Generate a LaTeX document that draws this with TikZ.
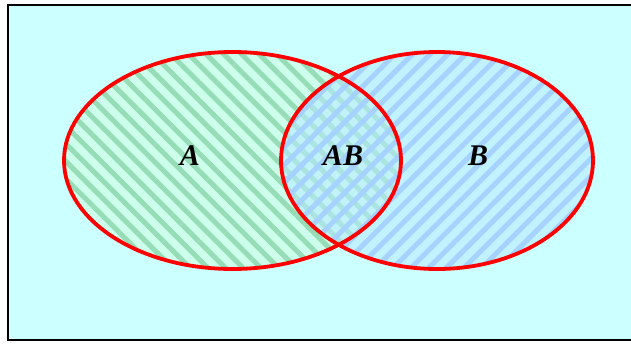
\documentclass[tikz,border=0pt]{standalone}
\usepackage{fontspec}
\setmainfont{Liberation Serif}
\usetikzlibrary{patterns.meta}
\definecolor{bgcyan}{RGB}{204,255,255}
\definecolor{abase}{RGB}{204,255,236}
\definecolor{astripe}{RGB}{150,220,182}
\definecolor{bbase}{RGB}{184,234,255}
\definecolor{bstripe}{RGB}{165,210,255}
\tikzset{
  setlabel/.style={font=\fontsize{30}{30}\selectfont\bfseries\itshape, anchor=base, inner sep=0pt},
  setrim/.style={draw=red, line width=3.8pt},
}
\begin{document}
\begin{tikzpicture}[x=1pt,y=-1pt]
\useasboundingbox (0,0) rectangle (631,343);
\fill[bgcyan] (8,5) rectangle (640,340);
\draw[line width=2.4pt] (640,5) -- (8,5) -- (8,340) -- (640,340);
% set A
\fill[abase] (232.5,160.5) ellipse [x radius=168.5, y radius=108.5];
\fill[pattern={Lines[angle=-45,distance=12.5pt,line width=5pt]}, pattern color=astripe] (232.5,160.5) ellipse [x radius=168.5, y radius=108.5];
% set B
\fill[bbase, fill opacity=0.6] (437,160.5) ellipse [x radius=156, y radius=108.5];
\fill[pattern={Lines[angle=45,distance=12.5pt,line width=5pt]}, pattern color=bstripe, fill opacity=0.8] (437,160.5) ellipse [x radius=156, y radius=108.5];
% outlines
\draw[setrim] (437,160.5) ellipse [x radius=156, y radius=108.5];
\draw[setrim] (232.5,160.5) ellipse [x radius=168.5, y radius=108.5];
\node[setlabel] (la) at (190,165) {A};
\node[setlabel] (lab) at (343,165) {AB};
\node[setlabel] (lb) at (478,165) {B};
\end{tikzpicture}
\end{document}
